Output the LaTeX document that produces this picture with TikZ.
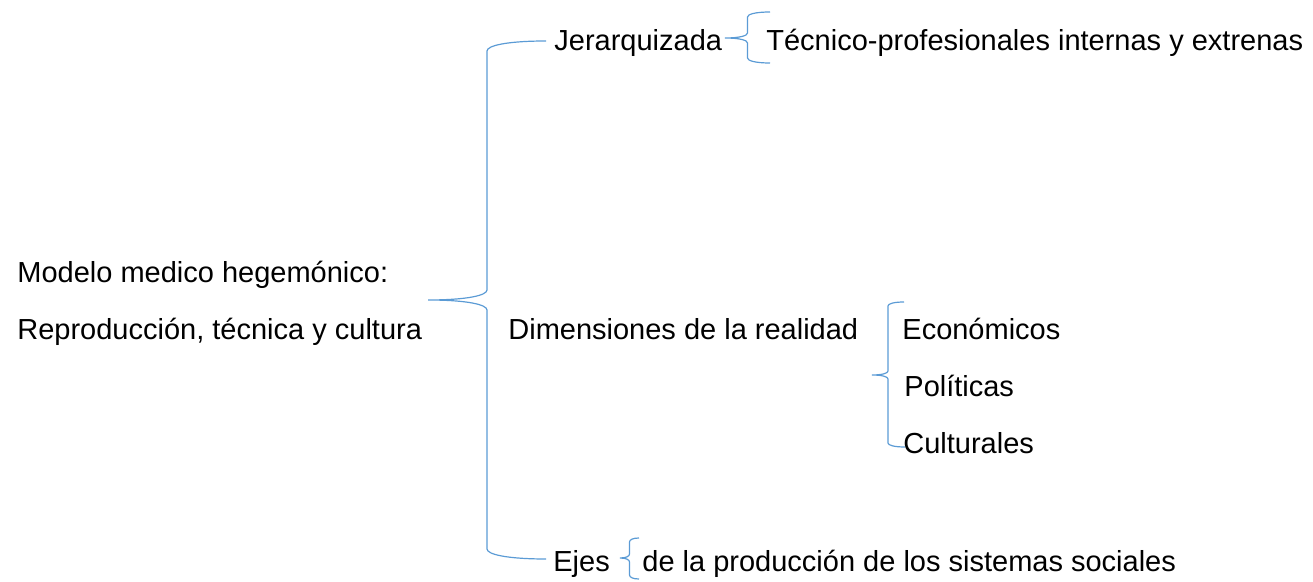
\documentclass[tikz,border=0pt]{standalone}
\usepackage{fontspec}
\setmainfont{Liberation Sans}
\usetikzlibrary{calc}
\definecolor{azul}{HTML}{5B9BD5}
\tikzstyle{txt} = [anchor=base west, inner sep=0pt,
    font=\fontsize{14.5}{17}\selectfont]
\tikzstyle{llave} = [draw=azul, line width=0.6pt]
% punta, extremo de arriba, extremo de abajo, curva
\newcommand{\corchete}[4]{%
  \draw[llave] let \p1=(#1), \p2=(#2), \p3=(#3), \p4=($(#1)!0.5!(#2)$) in
    (\p2) .. controls ({\x4+0.35*(\x2-\x4)},\y2) and (\x4,{\y2-0.45*#4}) .. (\x4,\y2-#4)
    -- (\x4,\y1+#4) .. controls (\x4,{\y1+0.45*#4}) and ({\x4+0.35*(\x1-\x4)},\y1) .. (\p1)
    .. controls ({\x4+0.35*(\x1-\x4)},\y1) and (\x4,{\y1-0.45*#4}) .. (\x4,\y1-#4)
    -- (\x4,\y3+#4) .. controls (\x4,{\y3+0.45*#4}) and ({\x4+0.35*(\x3-\x4)},\y3) .. (\p3);}

\begin{document}
\begin{tikzpicture}[x=0.5pt,y=-0.5pt]
  \useasboundingbox (0,0) rectangle (1313,582);
  \node[txt] (modelo)   at (17,283)  {Modelo medico hegemónico:};
  \node[txt] (reprod)   at (17,340)  {Reproducción, técnica y cultura};
  \node[txt] (jerarq)   at (554,51)  {Jerarquizada};
  \node[txt] (tecnico)  at (766,51)  {Técnico-profesionales internas y extrenas};
  \node[txt] (dimens)   at (508,340) {Dimensiones de la realidad};
  \node[txt] (econ)     at (902,340) {Económicos};
  \node[txt] (polit)    at (904,397) {Políticas};
  \node[txt] (cultur)   at (903,454) {Culturales};
  \node[txt] (ejes)     at (553,572) {Ejes};
  \node[txt] (sistemas) at (642,572) {de la producción de los sistemas sociales};

  \coordinate (p0) at (428,300);
  \coordinate (a0) at (546,41);
  \coordinate (b0) at (546,559);
  \coordinate (p1) at (725,38);
  \coordinate (a1) at (770,12);
  \coordinate (b1) at (770,63);
  \coordinate (p2) at (872,375);
  \coordinate (a2) at (904,302);
  \coordinate (b2) at (905,447);
  \coordinate (p3) at (620,558);
  \coordinate (a3) at (639,538);
  \coordinate (b3) at (639,579);

  \corchete{p0}{a0}{b0}{5pt}
  \corchete{p1}{a1}{b1}{2.5pt}
  \corchete{p2}{a2}{b2}{2pt}
  \corchete{p3}{a3}{b3}{2pt}
\end{tikzpicture}
\end{document}
